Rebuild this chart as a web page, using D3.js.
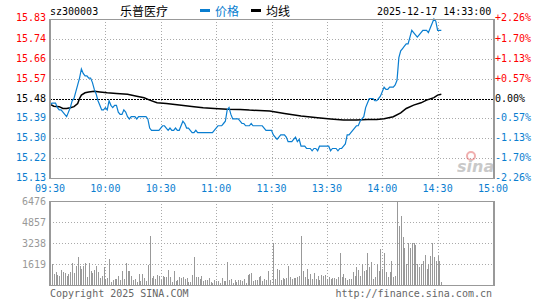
<!DOCTYPE html>
<html>
<head>
<meta charset="utf-8">
<script src="https://cdn.jsdelivr.net/npm/d3@7"></script>
<style>
  body { margin: 0; background: #fff; }
  text { font-family: "DejaVu Sans Mono", monospace; font-size: 10px; }
  .cjk { font-family: "Noto Sans CJK SC", sans-serif; font-size: 12px; }
</style>
</head>
<body>
<svg id="chart"></svg>
<script>
// Colors
let cred = "#ff0000";
let cblue = "#0a7ed0";
let cgrid = "#aaaaaa";
let cframe = "#999999";

// chart values
let stockCode = "sz300003";
let stockName = "乐普医疗";
let stamp = "2025-12-17 14:33:00";
let prevClose = 15.48;
let priceTicks = ["15.83", "15.74", "15.66", "15.57", "15.48", "15.39", "15.30", "15.22", "15.13"];
let pctTicks = ["+2.26%", "+1.70%", "+1.13%", "+0.57%", "0.00%", "-0.57%", "-1.13%", "-1.70%", "-2.26%"];
let volTicks = ["6476", "4857", "3238", "1619"];
let timeLabels = ["09:30", "10:00", "10:30", "11:00", "11:30", "13:30", "14:00", "14:30", "15:00"];

// one price per minute, 09:30 .. 14:33 (minute 120 = 11:30 / 13:00)
let prices = [
  15.45, 15.46, 15.46, 15.46, 15.44, 15.43, 15.43, 15.42, 15.41, 15.40,
  15.42, 15.44, 15.47, 15.48, 15.51, 15.54, 15.57, 15.61, 15.59, 15.58,
  15.58, 15.57, 15.57, 15.55, 15.52, 15.50, 15.47, 15.45, 15.43, 15.43,
  15.44, 15.43, 15.47, 15.45, 15.44, 15.45, 15.45, 15.42, 15.41, 15.41,
  15.43, 15.42, 15.40, 15.39, 15.40, 15.40, 15.40, 15.39, 15.40, 15.40,
  15.40, 15.40, 15.40, 15.39, 15.35, 15.34, 15.34, 15.34, 15.34, 15.34,
  15.35, 15.36, 15.36, 15.35, 15.34, 15.35, 15.34, 15.34, 15.35, 15.34,
  15.34, 15.36, 15.38, 15.37, 15.35, 15.35, 15.34, 15.33, 15.33, 15.34,
  15.33, 15.33, 15.33, 15.33, 15.33, 15.33, 15.33, 15.33, 15.33, 15.34,
  15.35, 15.36, 15.36, 15.36, 15.37, 15.38, 15.43, 15.44, 15.41, 15.39,
  15.39, 15.39, 15.39, 15.38, 15.37, 15.37, 15.36, 15.36, 15.36, 15.37,
  15.36, 15.36, 15.36, 15.36, 15.36, 15.36, 15.35, 15.34, 15.34, 15.34,
  15.34, 15.32, 15.31, 15.30, 15.31, 15.32, 15.32, 15.32, 15.31, 15.29,
  15.29, 15.29, 15.30, 15.31, 15.29, 15.30, 15.27, 15.27, 15.27, 15.26,
  15.26, 15.26, 15.25, 15.26, 15.26, 15.25, 15.27, 15.27, 15.27, 15.27,
  15.27, 15.27, 15.25, 15.26, 15.26, 15.26, 15.25, 15.26, 15.26, 15.27,
  15.28, 15.32, 15.32, 15.33, 15.34, 15.35, 15.36, 15.36, 15.38, 15.39,
  15.40, 15.44, 15.46, 15.48, 15.48, 15.48, 15.47, 15.47, 15.48, 15.49,
  15.51, 15.53, 15.52, 15.52, 15.53, 15.53, 15.53, 15.54, 15.56, 15.66,
  15.69, 15.70, 15.71, 15.72, 15.72, 15.75, 15.78, 15.77, 15.76, 15.75,
  15.76, 15.77, 15.78, 15.78, 15.78, 15.77, 15.79, 15.81, 15.83, 15.82,
  15.78, 15.78, 15.78
];

// average price line, sampled at these minutes
let avgMinutes = [0, 2, 5, 7, 9, 11, 13, 15, 16, 17, 19, 21, 24, 27, 31, 36, 42, 47, 51, 54, 58, 63, 70, 78, 83, 89, 96, 103,
  108, 119, 127, 136, 145, 152, 159, 166, 172, 177, 181, 186, 190, 193, 197, 201, 204, 208, 210, 212];
let avgPrices = [15.455, 15.446, 15.444, 15.436, 15.436, 15.439, 15.444, 15.458, 15.480, 15.495, 15.505, 15.509, 15.512, 15.509,
  15.505, 15.502, 15.499, 15.490, 15.483, 15.473, 15.461, 15.458, 15.451, 15.444, 15.439, 15.436, 15.433, 15.432,
  15.429, 15.425, 15.414, 15.403, 15.395, 15.390, 15.385, 15.385, 15.388, 15.388, 15.391, 15.400, 15.417, 15.436,
  15.451, 15.461, 15.473, 15.484, 15.495, 15.499];

// volume per minute (lots), same minutes as prices
let volumes = [
  460, 1590, 850, 1030, 770, 670, 1180, 1030, 925, 720,
  870, 1030, 1700, 925, 1465, 2130, 1465, 1235, 1465, 1700,
  640, 1700, 1080, 925, 1160, 1465, 1030, 510, 670, 1360,
  460, 565, 2000, 260, 360, 440, 460, 670, 385, 1080,
  460, 1700, 1080, 1080, 670, 385, 460, 205, 820, 335,
  850, 540, 335, 1570, 3800, 565, 670, 460, 745, 720,
  360, 720, 615, 615, 1180, 615, 205, 1080, 310, 410,
  615, 510, 615, 460, 565, 260, 260, 770, 2130, 615,
  615, 460, 670, 310, 385, 360, 510, 260, 155, 410,
  280, 280, 155, 510, 310, 310, 1750, 410, 460, 155,
  410, 260, 360, 360, 310, 460, 155, 770, 820, 925,
  335, 385, 385, 615, 695, 335, 460, 360, 1080, 410,
  0, 3240, 460, 1235, 1160, 410, 540, 460, 565, 1465,
  615, 490, 565, 565, 615, 720, 3800, 1080, 615, 1235,
  460, 820, 460, 925, 460, 720, 410, 770, 670, 770,
  460, 615, 460, 565, 565, 460, 615, 2470, 615, 820,
  565, 410, 460, 460, 980, 720, 1360, 1130, 720, 1590,
  1080, 1160, 2470, 1360, 1750, 460, 615, 1590, 1080, 2780,
  1235, 2470, 980, 615, 980, 1850, 615, 670, 6476, 4520,
  5290, 3700, 2830, 1645, 3240, 2830, 3240, 3240, 3080, 1645,
  1360, 1590, 1850, 2310, 1235, 1590, 2210, 3240, 2160, 1850,
  2260, 1850, 205
];

drawChart();

function drawChart() {
  let width = 545;
  let height = 300;
  let left = 50, right = 493;
  let pTop = 19, pBottom = 178;
  let vTop = 201, vBottom = 285;
  let span = prevClose * 0.0226;

  let svg = d3.select("#chart")
    .attr("width", width)
    .attr("height", height);

  let x = d3.scaleLinear().domain([0, 240]).range([left, right]);
  let y = d3.scaleLinear().domain([prevClose - span, prevClose + span]).range([pBottom, pTop]);
  let yv = d3.scaleLinear().domain([0, 6476]).range([vBottom, vTop]);
  let levels = d3.range(9).map(i => prevClose + span - i * span / 4);
  let gridMinutes = d3.range(1, 8).map(i => i * 30);

  // grid, price panel
  svg.append("g")
    .selectAll("line")
    .data(levels.slice(1, 8))
    .join("line")
      .attr("x1", left).attr("x2", right)
      .attr("y1", d => Math.round(y(d)) + 0.5)
      .attr("y2", d => Math.round(y(d)) + 0.5)
      .attr("stroke", (d, i) => i == 3 ? "#000" : cgrid)
      .attr("stroke-dasharray", (d, i) => i == 3 ? "2,1" : "1,2");

  svg.append("g")
    .selectAll("line")
    .data(gridMinutes)
    .join("line")
      .attr("x1", d => Math.round(x(d)) + 0.5)
      .attr("x2", d => Math.round(x(d)) + 0.5)
      .attr("y1", pTop).attr("y2", pBottom)
      .attr("stroke", cgrid)
      .attr("stroke-dasharray", "1,2");

  // grid, volume panel
  svg.append("g")
    .selectAll("line")
    .data(volTicks.slice(1).map(Number))
    .join("line")
      .attr("x1", left).attr("x2", right)
      .attr("y1", d => Math.round(yv(d)) + 0.5)
      .attr("y2", d => Math.round(yv(d)) + 0.5)
      .attr("stroke", cgrid)
      .attr("stroke-dasharray", "1,2");

  svg.append("g")
    .selectAll("line")
    .data(gridMinutes)
    .join("line")
      .attr("x1", d => Math.round(x(d)) + 0.5)
      .attr("x2", d => Math.round(x(d)) + 0.5)
      .attr("y1", vTop).attr("y2", vBottom)
      .attr("stroke", cgrid)
      .attr("stroke-dasharray", "1,2");

  // sina watermark
  let logo = svg.append("g").attr("opacity", 0.45);
  logo.append("circle")
    .attr("cx", 471).attr("cy", 156).attr("r", 4)
    .attr("fill", "none").attr("stroke", "#e05050").attr("stroke-width", 2);
  logo.append("text")
    .attr("x", 457).attr("y", 172)
    .style("font-family", "DejaVu Sans")
    .style("font-size", "16px")
    .style("font-style", "italic")
    .style("font-weight", "bold")
    .attr("fill", "#888")
    .text("sina");

  // volume bars
  svg.append("g")
    .attr("shape-rendering", "crispEdges")
    .selectAll("rect")
    .data(volumes)
    .join("rect")
      .attr("x", (d, i) => Math.round(x(i)))
      .attr("width", 1)
      .attr("y", d => yv(d))
      .attr("height", d => vBottom - yv(d))
      .attr("fill", "#999");

  // average line
  let avgLine = d3.line()
    .x(d => x(d[0]))
    .y(d => y(d[1]));
  svg.append("path")
    .attr("d", avgLine(avgMinutes.map((m, i) => [m, avgPrices[i]])))
    .attr("fill", "none")
    .attr("stroke", "#000")
    .attr("stroke-width", 1.5);

  // price line
  let priceLine = d3.line()
    .x((d, i) => x(i))
    .y(d => y(d));
  svg.append("path")
    .attr("d", priceLine(prices))
    .attr("fill", "none")
    .attr("stroke", cblue)
    .attr("stroke-width", 1.2);

  // frames
  [[pTop, pBottom], [vTop, vBottom]].forEach(([t, b]) => {
    svg.append("rect")
      .attr("x", left + 0.5).attr("y", t + 0.5)
      .attr("width", right - left).attr("height", b - t)
      .attr("fill", "none")
      .attr("stroke", cframe)
      .attr("stroke-width", 1);
    svg.append("line")
      .attr("x1", left).attr("x2", left).attr("y1", t).attr("y2", b + 1)
      .attr("stroke", cframe).attr("stroke-width", 2);
    svg.append("line")
      .attr("x1", right + 1).attr("x2", right + 1).attr("y1", t).attr("y2", b + 1)
      .attr("stroke", cframe).attr("stroke-width", 2);
  });

  let tickColor = i => i < 4 ? cred : (i == 4 ? "#000" : cblue);

  // price and percent labels
  svg.append("g")
    .selectAll("text")
    .data(priceTicks)
    .join("text")
      .attr("x", 46)
      .attr("y", (d, i) => y(levels[i]) + (i == 0 ? 1.5 : 3))
      .attr("text-anchor", "end")
      .attr("fill", (d, i) => tickColor(i))
      .text(d => d);

  svg.append("g")
    .selectAll("text")
    .data(pctTicks)
    .join("text")
      .attr("x", 495)
      .attr("y", (d, i) => y(levels[i]) + (i == 0 ? 1.5 : 3))
      .attr("fill", (d, i) => tickColor(i))
      .text(d => d);

  // time labels
  svg.append("g")
    .selectAll("text")
    .data(timeLabels)
    .join("text")
      .attr("x", (d, i) => x(i * 30))
      .attr("y", 192)
      .attr("text-anchor", "middle")
      .attr("fill", cblue)
      .text(d => d);

  // volume labels
  svg.append("g")
    .selectAll("text")
    .data(volTicks)
    .join("text")
      .attr("x", 46)
      .attr("y", d => yv(+d) + 3.5)
      .attr("text-anchor", "end")
      .attr("fill", "#999")
      .text(d => d);

  // header
  svg.append("text").attr("x", 50).attr("y", 15).attr("fill", "#000").text(stockCode);
  svg.append("text").attr("class", "cjk").attr("x", 120).attr("y", 15.5).attr("fill", "#000").text(stockName);
  svg.append("rect").attr("x", 200).attr("y", 9).attr("width", 10).attr("height", 3).attr("fill", cblue);
  svg.append("text").attr("class", "cjk").attr("x", 215).attr("y", 15.5).attr("fill", cblue).text("价格");
  svg.append("rect").attr("x", 251).attr("y", 9).attr("width", 10).attr("height", 3).attr("fill", "#000");
  svg.append("text").attr("class", "cjk").attr("x", 266).attr("y", 15.5).attr("fill", "#000").text("均线");
  svg.append("text").attr("x", 377).attr("y", 15).attr("fill", "#000").text(stamp);

  // footer
  svg.append("text").attr("x", 50).attr("y", 297).attr("fill", "#666").text("Copyright 2025 SINA.COM");
  svg.append("text").attr("x", 492).attr("y", 297).attr("text-anchor", "end").attr("fill", "#666").text("http://finance.sina.com.cn");
}
</script>
</body>
</html>
